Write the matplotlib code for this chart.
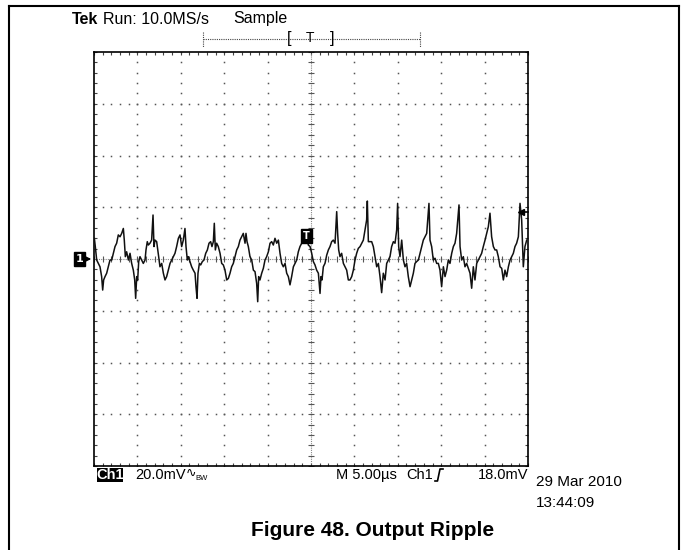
import matplotlib
matplotlib.use('Agg')
import matplotlib.pyplot as plt
from matplotlib.patches import Rectangle
import numpy as np

# ripple trace: time (us) and ripple (mV)
t_us = [0.04, 0.15, 0.31, 0.50, 0.69, 0.88, 1.00, 1.11, 1.27, 1.46, 1.65, 1.84, 2.04, 2.23, 2.42,
        2.61, 2.80, 3.00, 3.19, 3.38, 3.49, 3.61, 3.76, 3.96, 4.15, 4.34, 4.53, 4.69, 4.80, 4.92,
        5.03, 5.15, 5.30, 5.49, 5.68, 5.88, 5.99, 6.14, 6.26, 6.45, 6.64, 6.80, 6.91, 7.03, 7.22,
        7.34, 7.45, 7.60, 7.80, 7.99, 8.18, 8.37, 8.56, 8.76, 8.95, 9.14, 9.33, 9.52, 9.72, 9.91,
        10.10, 10.29, 10.48, 10.60, 10.75, 10.87, 11.06, 11.25, 11.44, 11.64, 11.75, 11.87, 11.98,
        12.14, 12.29, 12.48, 12.67, 12.87, 13.06, 13.25, 13.44, 13.59, 13.75, 13.86, 13.98, 14.13,
        14.32, 14.52,
        14.71, 14.90, 15.09, 15.29, 15.48, 15.67, 15.86, 16.05, 16.24, 16.44, 16.63, 16.82, 17.01,
        17.20, 17.40, 17.51, 17.63, 17.78, 17.97, 18.17, 18.36, 18.55, 18.74, 18.86, 18.97, 19.12,
        19.32, 19.51, 19.70, 19.89, 20.09, 20.28, 20.47, 20.66, 20.85, 21.05, 21.24, 21.43, 21.62,
        21.81, 22.01, 22.20, 22.39, 22.58, 22.77, 22.97, 23.16, 23.35, 23.54, 23.73, 23.93, 24.12,
        24.31, 24.50, 24.69, 24.89, 25.08, 25.27, 25.46, 25.65, 25.85, 26.04, 26.15, 26.27, 26.42,
        26.61, 26.81, 27.00, 27.19, 27.38, 27.57, 27.77, 27.96, 28.07, 28.19, 28.34, 28.53, 28.73,
        28.92, 29.11, 29.30, 29.49, 29.69, 29.88, 30.07, 30.26, 30.45, 30.65,
        31.03, 31.22, 31.41, 31.49, 31.61, 31.99, 32.18, 32.37, 32.57, 32.76, 32.95, 33.14, 33.33,
        33.53, 33.72, 33.91, 34.10, 34.29, 34.49, 34.68, 34.87, 34.98, 35.10, 35.25, 35.45, 35.64,
        35.83, 36.02, 36.21, 36.41, 36.60, 36.79, 36.98, 37.17, 37.37, 37.56, 37.75, 37.94, 38.33,
        38.59, 38.71, 38.90, 39.09, 39.29, 39.48, 39.67, 39.86, 40.05, 40.25, 40.44, 40.63, 40.82,
        41.01, 41.21, 41.40, 41.59, 41.78, 42.05, 42.17, 42.36, 42.55, 42.74, 42.93, 43.32, 43.51,
        43.70, 43.89, 44.09, 44.28, 44.66, 44.85, 45.05, 45.24, 45.43, 45.62, 45.81, 46.01, 46.20,
        46.39, 46.58, 46.78, 46.97, 47.16, 47.35, 47.54, 47.74, 47.93, 48.12, 48.31, 48.50, 48.69,
        48.89, 49.08, 49.27, 49.46, 49.65, 49.85]
v_mv = [8.0, 4.8, -0.4, -1.7, -3.0, -6.8, -12.0, -8.1, -6.8, -5.5, -3.0, -0.4, -0.4, 2.2, 4.8,
        6.1, 9.3, 8.6, 9.9, 11.8, 7.3, 0.9, 2.8, -0.4, 2.2, -1.7, -4.3, -8.1, -15.2, -6.8,
        -8.1, -1.0, 0.9, -0.4, -1.7, -0.4, 3.5, 6.7, 5.4, 6.1, 7.3, 17.0, 4.8, 7.3, 6.7,
        3.5, 0.9, -3.0, -1.7, -5.5, -8.1, -6.8, -4.3, -1.7, -0.4, 0.9, 2.2, 4.8, 8.0, 9.3,
        4.8, 7.3, 11.8, 4.8, -0.4, 0.9, -1.0, -3.0, -4.3, -5.5, -10.7, -15.2, -5.5,
        -1.7, -2.3, -1.0, -0.4, 2.2, 3.5, 6.1, 6.7, 4.8, 6.7, 13.8, 3.5, 6.1,
        4.8, 2.2,
        -1.7, -2.3, -4.3, -8.1, -7.5, -5.5, -3.0, -1.7, 0.9, 3.5, 4.8, 7.3, 8.6,
        9.9, 6.1, 9.9, 6.7, 4.8, 0.9, -0.4, -4.3, -4.9, -9.4, -16.5, -6.8, -8.1,
        -5.5, -3.6, -0.4, 0.9, 2.8, 6.1, 6.7, 5.4, 8.0, 6.1, 7.3, 2.2, -1.7,
        -3.0, -1.7, -5.5, -6.8, -10.0, -6.8, -3.0, -1.7, -0.4, 2.8, 4.8, 6.1, 8.6,
        9.3, 10.6, 5.4, 4.8, 2.2, -1.0, -2.3, -4.3, -5.5, -13.3, -6.8, -8.1, -3.0,
        -1.7, 1.5, 3.5, 4.8, 6.7, 7.3, 6.1, 18.3, 9.9, 3.5, 0.9, 2.2, -1.7,
        -3.0, -4.3, -8.1, -8.1, -6.8, -4.3, -0.4, 2.2, 4.1, 4.8,
        7.3, 11.2, 15.1, 22.4, 6.7, 6.7, 4.8, 0.9, -3.0, -1.7, -6.8, -13.0, -5.5,
        -8.1, -1.7, -0.4, 0.9, 4.8, 6.7, 6.1, 11.2, 21.5, 4.8, 0.9, 7.3, -0.4,
        -3.0, -1.7, -6.8, -10.7, -8.1, -5.5, -1.7, -1.0, -0.4, 2.2, 4.8, 7.3, 9.9,
        21.5, 7.3, 4.8, -0.4, 0.3, -1.7, -1.7, -4.3, -10.7, -3.0, -6.8, -4.3, -0.4,
        -1.7, 2.2, 4.8, 6.1, 9.9, 20.9, 4.8, -0.4, 0.9, -3.0, -1.7, -5.5, -11.3,
        -3.0, -8.1, -1.7, -0.4, 2.2, 4.8, 7.3, 9.9, 12.5, 17.7, 8.6, 4.8, 3.5,
        3.5, 0.9, -3.0, -3.6, -8.1, -4.3, -6.8, -3.0, -0.4, 0.9, 2.2, 4.8, 6.1,
        8.6, 21.5, 15.1, -3.0, 4.8, 7.3]

time_div = 5.0     # us/div
volt_div = 20.0    # mV/div
trig_level = 18.0  # mV

top_left = 'Run: 10.0MS/s'
top_mode = 'Sample'
ch_scale = '20.0mV'
time_scale = 'M 5.00\u00b5s'
trig_src = 'Ch1'
trig_text = '18.0mV'
date_text = '29 Mar 2010'
time_text = '13:44:09'
caption = 'Figure 48. Output Ripple'

W, H = 683, 550
sans = ['Liberation Sans', 'DejaVu Sans']

fig = plt.figure(figsize=(W / 100, H / 100), dpi=100)
ax = fig.add_axes([94 / W, 1 - 466 / H, 434 / W, 414 / H])
ax.set_xlim(0, 10 * time_div)
ax.set_ylim(-4 * volt_div, 4 * volt_div)

minor_x = np.arange(0, 10 * time_div + 0.01, time_div / 5)
minor_y = np.arange(-4 * volt_div, 4 * volt_div + 0.01, volt_div / 5)

# dotted graticule
for k in range(1, 10):
    if k == 5:
        continue
    ax.plot(np.full(len(minor_y), k * time_div), minor_y, ls='none', marker='s',
            ms=1.1, mew=0, color='#555')
for k in [-3, -2, -1, 1, 2, 3]:
    ax.plot(minor_x, np.full(len(minor_x), k * volt_div), ls='none', marker='s',
            ms=1.1, mew=0, color='#555')
ax.axvline(5 * time_div, color='#888', lw=0.8, ls=(0, (1, 1)))
ax.axhline(0, color='#888', lw=0.8, ls=(0, (1, 1)))
ax.plot(np.full(len(minor_y), 5 * time_div), minor_y, ls='none', marker='_', ms=5,
        mew=0.8, color='#555')
ax.plot(minor_x, np.zeros(len(minor_x)), ls='none', marker='|', ms=5, mew=0.8, color='#555')

ax.set_xticks(minor_x)
ax.set_yticks(minor_y)
ax.tick_params(direction='in', length=2.5, width=0.8, top=True, right=True,
               labelbottom=False, labelleft=False, color='#444')
for s in ax.spines.values():
    s.set_linewidth(1.2)

ax.plot(t_us, v_mv, color='#111111', lw=1.1, zorder=3)

# ground marker and trigger level arrow
ax.text(-1.65, 0, '1', color='white', fontsize=8, fontweight='bold', ha='center', va='center',
        bbox=dict(fc='black', ec='black', pad=1.2), clip_on=False, zorder=5)
ax.annotate('', xy=(0, 0), xytext=(-1.1, 0), annotation_clip=False,
            arrowprops=dict(arrowstyle='-|>', color='black', lw=1.0, mutation_scale=7))
ax.plot([49.2], [trig_level], marker='<', ms=5, color='black', clip_on=False, zorder=5)
ax.plot([49.3, 50], [trig_level, trig_level], color='black', lw=1.2, clip_on=False)
ax.text(24.5, 9.0, 'T', color='white', fontsize=7, fontweight='bold', ha='center', va='center',
        bbox=dict(fc='black', ec='black', pad=1.3), zorder=5)

# overlay in pixel units for the screen annotations
ov = fig.add_axes([0, 0, 1, 1], facecolor='none')
ov.set_xlim(0, W)
ov.set_ylim(H, 0)
ov.axis('off')

ov.plot([9, 9], [6, 550], color='black', lw=1.5)
ov.plot([679, 679], [6, 550], color='black', lw=1.5)
ov.plot([9, 679], [6, 6], color='black', lw=1.5)

ov.text(72, 19, 'Tek', family=sans, fontsize=11.5, fontweight='bold', va='center')
ov.text(103, 19, top_left, family=sans, fontsize=11.5, va='center')
ov.text(233, 19, top_mode, family=sans, fontsize=11.5, va='center')

ov.plot([203, 420], [39, 39], color='#444', lw=0.8, ls=(0, (1, 1)))
ov.plot([203, 203], [32, 47], color='#444', lw=0.8, ls=(0, (1, 1)))
ov.plot([420, 420], [32, 47], color='#444', lw=0.8, ls=(0, (1, 1)))
ov.text(289, 39, '[', family=sans, fontsize=12, ha='center', va='center')
ov.text(310, 38, 'T', family=sans, fontsize=10, ha='center', va='center')
ov.text(332, 39, ']', family=sans, fontsize=12, ha='center', va='center')

ov.add_patch(Rectangle((97, 468), 26, 14, fc='black', ec='none'))
ov.text(110, 475, 'Ch1', family=sans, fontsize=10.5, fontweight='bold', color='white',
        ha='center', va='center')
ov.text(135, 475, ch_scale, family=sans, fontsize=10.5, va='center')
ov.text(186, 473, '\u223f', family=['DejaVu Sans'], fontsize=9, va='center')
ov.text(195, 478, 'BW', family=sans, fontsize=5.5, va='center')
ov.text(397, 475, time_scale, family=sans, fontsize=10.5, ha='right', va='center')
ov.text(406, 475, trig_src, family=sans, fontsize=10.5, va='center')
ov.plot([435, 437.5, 440, 443], [481, 481, 469, 469], color='black', lw=1.2)
ov.text(528, 475, trig_text, family=sans, fontsize=10.5, ha='right', va='center')
ov.text(536, 482, date_text, family=sans, fontsize=11, va='center')
ov.text(536, 503, time_text, family=sans, fontsize=11, va='center')

ov.text(373, 531, caption, family=sans, fontsize=15, fontweight='bold',
        ha='center', va='center')

fig.savefig('out.png', dpi=100)
